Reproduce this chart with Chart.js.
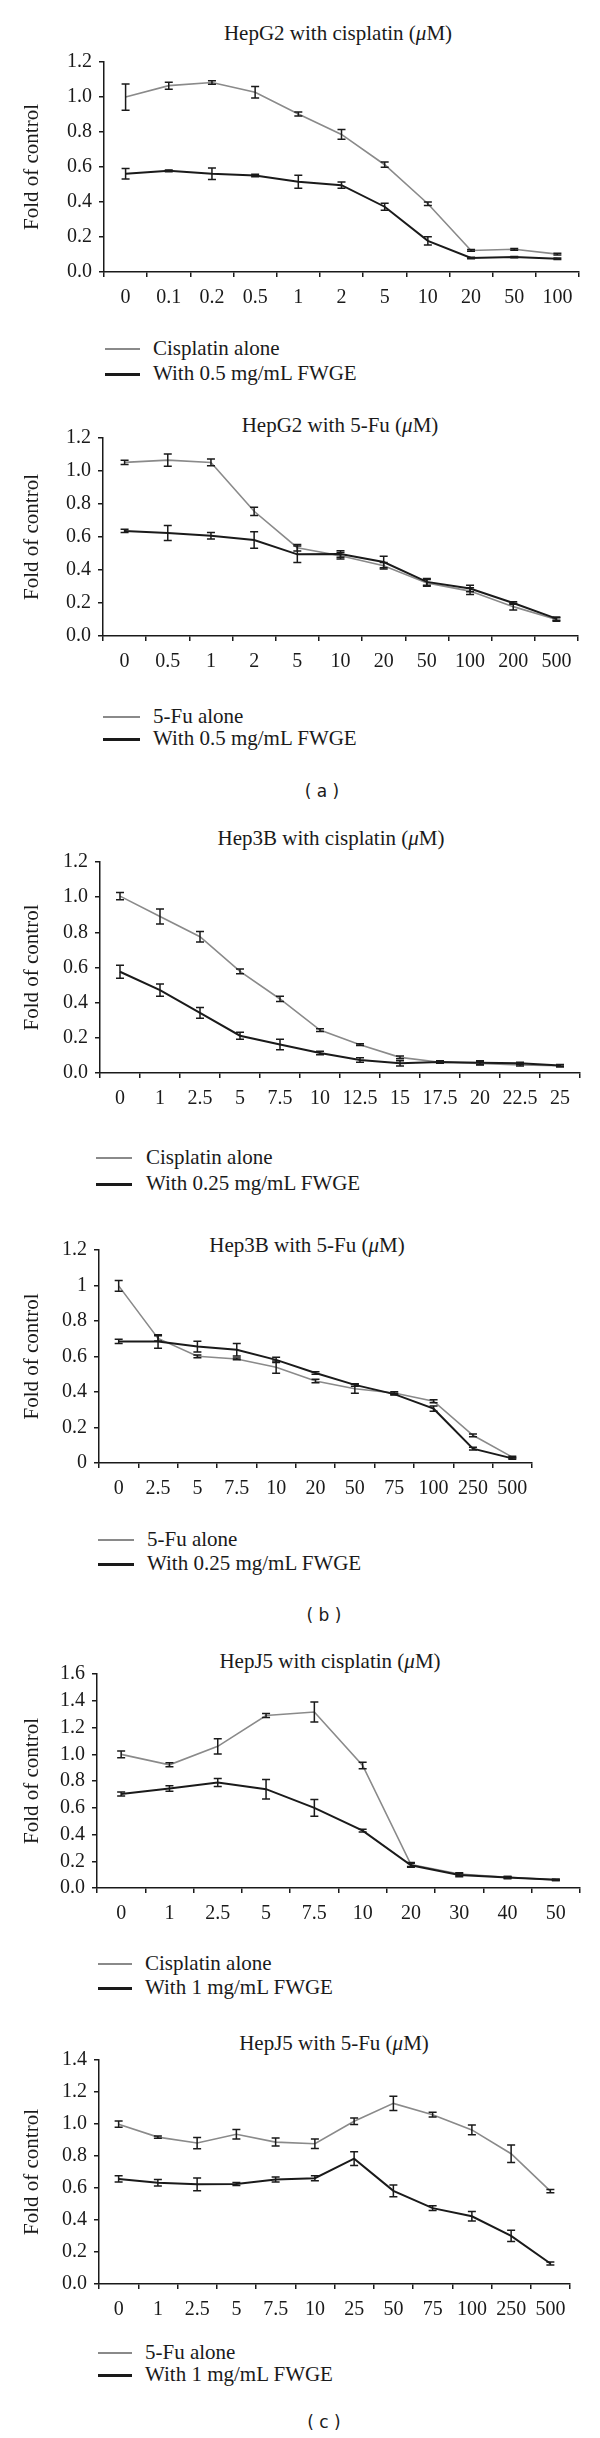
<!DOCTYPE html>
<html lang="en">
<head>
<meta charset="UTF-8">
<title>FWGE combined with cisplatin and 5-Fu</title>
<script src="https://cdn.jsdelivr.net/npm/chart.js"></script>
<style>
  body { margin: 0; background: #fff; }
  #page { position: relative; width: 600px; height: 2438px; overflow: hidden; font-family: "Liberation Serif", serif; color: #1a1a1a; }
  #page canvas { position: absolute; left: 0; }
  .title { position: absolute; font-size: 21px; line-height: 1; white-space: nowrap; transform: translate(-50%, -50%); }
  .panel { position: absolute; font-family: "DejaVu Sans", sans-serif; font-size: 17px; line-height: 1; white-space: pre; transform: translate(-50%, -50%); }
  .legend-row { position: absolute; left: 0; width: 600px; height: 24px; }
  .legend-row .swatch { position: absolute; top: 12px; }
  .legend-row .txt { position: absolute; top: 0; font-size: 21px; line-height: 24px; white-space: nowrap; }
</style>
</head>
<body>
<div id="page">
  <div class="title" style="left:338px; top:33px;">HepG2 with cisplatin (<i>μ</i>M)</div>
  <div class="title" style="left:340px; top:425px;">HepG2 with 5-Fu (<i>μ</i>M)</div>
  <div class="panel" style="left:322px; top:791px;">( a )</div>
  <div class="title" style="left:331px; top:838px;">Hep3B with cisplatin (<i>μ</i>M)</div>
  <div class="title" style="left:307px; top:1245px;">Hep3B with 5-Fu (<i>μ</i>M)</div>
  <div class="panel" style="left:324px; top:1615px;">( b )</div>
  <div class="title" style="left:330px; top:1661px;">HepJ5 with cisplatin (<i>μ</i>M)</div>
  <div class="title" style="left:334px; top:2043px;">HepJ5 with 5-Fu (<i>μ</i>M)</div>
  <div class="panel" style="left:324px; top:2422px;">( c )</div>
</div>

<script>
  // HepG2 + cisplatin
  const hepg2CisDoses = ['0', '0.1', '0.2', '0.5', '1', '2', '5', '10', '20', '50', '100'];
  const hepg2CisAlone = [1.00, 1.065, 1.083, 1.027, 0.903, 0.786, 0.613, 0.39, 0.123, 0.13, 0.102];
  const hepg2CisAloneErr = [0.075, 0.02, 0.01, 0.033, 0.012, 0.028, 0.015, 0.01, 0.005, 0.005, 0.005];
  const hepg2CisFwge = [0.561, 0.578, 0.561, 0.552, 0.516, 0.496, 0.373, 0.178, 0.08, 0.085, 0.076];
  const hepg2CisFwgeErr = [0.03, 0.005, 0.033, 0.007, 0.037, 0.018, 0.02, 0.023, 0.004, 0.004, 0.004];

  // HepG2 + 5-Fu
  const hepg2FuDoses = ['0', '0.5', '1', '2', '5', '10', '20', '50', '100', '200', '500'];
  const hepg2FuAlone = [1.052, 1.066, 1.052, 0.756, 0.535, 0.486, 0.426, 0.322, 0.272, 0.178, 0.10];
  const hepg2FuAloneErr = [0.013, 0.037, 0.02, 0.025, 0.02, 0.02, 0.02, 0.02, 0.02, 0.02, 0.01];
  const hepg2FuFwge = [0.637, 0.624, 0.608, 0.582, 0.495, 0.497, 0.448, 0.328, 0.288, 0.20, 0.105];
  const hepg2FuFwgeErr = [0.01, 0.045, 0.02, 0.05, 0.05, 0.02, 0.035, 0.02, 0.02, 0.008, 0.01];

  // Hep3B + cisplatin
  const hep3bCisDoses = ['0', '1', '2.5', '5', '7.5', '10', '12.5', '15', '17.5', '20', '22.5', '25'];
  const hep3bCisAlone = [1.006, 0.89, 0.775, 0.578, 0.421, 0.244, 0.161, 0.089, 0.061, 0.055, 0.046, 0.041];
  const hep3bCisAloneErr = [0.02, 0.042, 0.03, 0.013, 0.015, 0.008, 0.005, 0.008, 0.005, 0.01, 0.006, 0.005];
  const hep3bCisFwge = [0.576, 0.471, 0.342, 0.212, 0.162, 0.114, 0.074, 0.055, 0.063, 0.059, 0.055, 0.042];
  const hep3bCisFwgeErr = [0.037, 0.035, 0.03, 0.02, 0.03, 0.01, 0.013, 0.015, 0.006, 0.01, 0.006, 0.006];

  // Hep3B + 5-Fu
  const hep3bFuDoses = ['0', '2.5', '5', '7.5', '10', '20', '50', '75', '100', '250', '500'];
  const hep3bFuAlone = [0.998, 0.702, 0.601, 0.586, 0.54, 0.462, 0.418, 0.394, 0.348, 0.156, 0.033];
  const hep3bFuAloneErr = [0.03, 0.015, 0.008, 0.005, 0.035, 0.01, 0.025, 0.008, 0.008, 0.008, 0.005];
  const hep3bFuFwge = [0.685, 0.685, 0.656, 0.638, 0.581, 0.507, 0.44, 0.388, 0.306, 0.081, 0.026];
  const hep3bFuFwgeErr = [0.012, 0.038, 0.03, 0.035, 0.015, 0.007, 0.007, 0.005, 0.015, 0.008, 0.005];

  // HepJ5 + cisplatin
  const hepj5CisDoses = ['0', '1', '2.5', '5', '7.5', '10', '20', '30', '40', '50'];
  const hepj5CisAlone = [0.999, 0.921, 1.059, 1.29, 1.316, 0.916, 0.175, 0.104, 0.08, 0.061];
  const hepj5CisAloneErr = [0.025, 0.015, 0.057, 0.015, 0.075, 0.025, 0.015, 0.01, 0.006, 0.005];
  const hepj5CisFwge = [0.703, 0.744, 0.788, 0.739, 0.599, 0.429, 0.17, 0.097, 0.078, 0.061];
  const hepj5CisFwgeErr = [0.015, 0.02, 0.03, 0.073, 0.063, 0.01, 0.015, 0.012, 0.008, 0.005];

  // HepJ5 + 5-Fu
  const hepj5FuDoses = ['0', '1', '2.5', '5', '7.5', '10', '25', '50', '75', '100', '250', '500'];
  const hepj5FuAlone = [0.999, 0.918, 0.881, 0.936, 0.887, 0.877, 1.017, 1.129, 1.058, 0.963, 0.814, 0.58];
  const hepj5FuAloneErr = [0.02, 0.007, 0.035, 0.03, 0.025, 0.03, 0.02, 0.045, 0.015, 0.03, 0.055, 0.01];
  const hepj5FuFwge = [0.657, 0.633, 0.623, 0.625, 0.653, 0.661, 0.783, 0.582, 0.474, 0.423, 0.301, 0.128];
  const hepj5FuFwgeErr = [0.02, 0.02, 0.04, 0.01, 0.015, 0.015, 0.043, 0.037, 0.015, 0.03, 0.035, 0.01];

  const ink = '#1a1a1a';
  const grey = '#8a8a8a';
  const serif = '"Liberation Serif", serif';

  // mean +/- error whiskers, drawn from each dataset's errors array
  const errorBars = {
    id: 'errorBars',
    afterDatasetsDraw(chart) {
      const ctx = chart.ctx;
      const y = chart.scales.y;
      ctx.save();
      ctx.strokeStyle = ink;
      ctx.lineWidth = 1.5;
      chart.data.datasets.forEach((ds, i) => {
        chart.getDatasetMeta(i).data.forEach((pt, j) => {
          const hi = y.getPixelForValue(ds.data[j] + ds.errors[j]);
          const lo = y.getPixelForValue(ds.data[j] - ds.errors[j]);
          ctx.beginPath();
          ctx.moveTo(pt.x, hi); ctx.lineTo(pt.x, lo);
          ctx.moveTo(pt.x - 4, hi); ctx.lineTo(pt.x + 4, hi);
          ctx.moveTo(pt.x - 4, lo); ctx.lineTo(pt.x + 4, lo);
          ctx.stroke();
        });
      });
      ctx.restore();
    }
  };

  const page = document.getElementById('page');

  function drawPanel(p) {
    const canvas = document.createElement('canvas');
    const height = p.bottom - p.top + 14 + 48;
    canvas.width = 600;
    canvas.height = height;
    canvas.style.top = (p.top - 14) + 'px';
    page.appendChild(canvas);

    new Chart(canvas, {
      type: 'line',
      data: {
        labels: p.doses,
        datasets: [
          { label: p.names[0], data: p.alone, errors: p.aloneErr, borderColor: grey, borderWidth: 1.6, pointRadius: 0, order: 1 },
          { label: p.names[1], data: p.fwge, errors: p.fwgeErr, borderColor: ink, borderWidth: 2, pointRadius: 0, order: 0 }
        ]
      },
      options: {
        responsive: false,
        animation: false,
        events: [],
        layout: { padding: { top: 14, left: 0, right: 600 - p.right, bottom: 0 } },
        plugins: { legend: { display: false }, tooltip: { enabled: false } },
        scales: {
          x: {
            offset: true,
            grid: { offset: true, drawOnChartArea: false, tickLength: 5, color: ink, lineWidth: 1.5 },
            border: { color: ink, width: 1.5 },
            ticks: { color: ink, font: { family: serif, size: 20 }, padding: 9, maxRotation: 0, autoSkip: false },
            afterFit: s => { s.height = 48; }
          },
          y: {
            min: 0,
            max: p.max,
            grid: { drawOnChartArea: false, tickLength: 5, color: ink, lineWidth: 1.5 },
            border: { color: ink, width: 1.5 },
            ticks: { stepSize: 0.2, autoSkip: false, color: ink, font: { family: serif, size: 20 }, padding: 7, callback: p.fmt },
            title: { display: true, text: 'Fold of control', color: ink, font: { family: serif, size: 21 }, padding: { top: 20, bottom: 0 } },
            afterFit: s => { s.width = p.left; }
          }
        }
      },
      plugins: [errorBars]
    });

    // legend rows below each chart, one per dataset
    const colors = [grey, ink];
    const widths = [2, 2.5];
    p.names.forEach((name, k) => {
      const row = document.createElement('div');
      row.className = 'legend-row';
      row.style.top = (p.legendY[k] - 12) + 'px';
      row.innerHTML =
        '<span class="swatch" style="left:' + p.swatch[0] + 'px;width:' + (p.swatch[1] - p.swatch[0]) +
        'px;height:' + widths[k] + 'px;background:' + colors[k] + '"></span>' +
        '<span class="txt" style="left:' + p.textX + 'px">' + name + '</span>';
      page.appendChild(row);
    });
  }

  const oneDecimal = v => v.toFixed(1);
  const plain = v => String(Math.round(v * 10) / 10);

  drawPanel({ doses: hepg2CisDoses, alone: hepg2CisAlone, aloneErr: hepg2CisAloneErr, fwge: hepg2CisFwge, fwgeErr: hepg2CisFwgeErr,
    names: ['Cisplatin alone', 'With 0.5 mg/mL FWGE'], max: 1.2, fmt: oneDecimal,
    left: 104, right: 579, top: 57, bottom: 272, legendY: [348, 373], swatch: [105, 140], textX: 153 });

  drawPanel({ doses: hepg2FuDoses, alone: hepg2FuAlone, aloneErr: hepg2FuAloneErr, fwge: hepg2FuFwge, fwgeErr: hepg2FuFwgeErr,
    names: ['5-Fu alone', 'With 0.5 mg/mL FWGE'], max: 1.2, fmt: oneDecimal,
    left: 103, right: 578, top: 433, bottom: 636, legendY: [716, 738], swatch: [103, 140], textX: 153 });

  drawPanel({ doses: hep3bCisDoses, alone: hep3bCisAlone, aloneErr: hep3bCisAloneErr, fwge: hep3bCisFwge, fwgeErr: hep3bCisFwgeErr,
    names: ['Cisplatin alone', 'With 0.25 mg/mL FWGE'], max: 1.2, fmt: oneDecimal,
    left: 100, right: 580, top: 857, bottom: 1073, legendY: [1157, 1183], swatch: [96, 132], textX: 146 });

  drawPanel({ doses: hep3bFuDoses, alone: hep3bFuAlone, aloneErr: hep3bFuAloneErr, fwge: hep3bFuFwge, fwgeErr: hep3bFuFwgeErr,
    names: ['5-Fu alone', 'With 0.25 mg/mL FWGE'], max: 1.2, fmt: plain,
    left: 99, right: 532, top: 1245, bottom: 1463, legendY: [1539, 1563], swatch: [98, 134], textX: 147 });

  drawPanel({ doses: hepj5CisDoses, alone: hepj5CisAlone, aloneErr: hepj5CisAloneErr, fwge: hepj5CisFwge, fwgeErr: hepj5CisFwgeErr,
    names: ['Cisplatin alone', 'With 1 mg/mL FWGE'], max: 1.6, fmt: oneDecimal,
    left: 97, right: 580, top: 1669, bottom: 1888, legendY: [1963, 1987], swatch: [98, 132], textX: 145 });

  drawPanel({ doses: hepj5FuDoses, alone: hepj5FuAlone, aloneErr: hepj5FuAloneErr, fwge: hepj5FuFwge, fwgeErr: hepj5FuFwgeErr,
    names: ['5-Fu alone', 'With 1 mg/mL FWGE'], max: 1.4, fmt: oneDecimal,
    left: 99, right: 570, top: 2055, bottom: 2284, legendY: [2352, 2374], swatch: [98, 132], textX: 145 });
</script>
</body>
</html>
